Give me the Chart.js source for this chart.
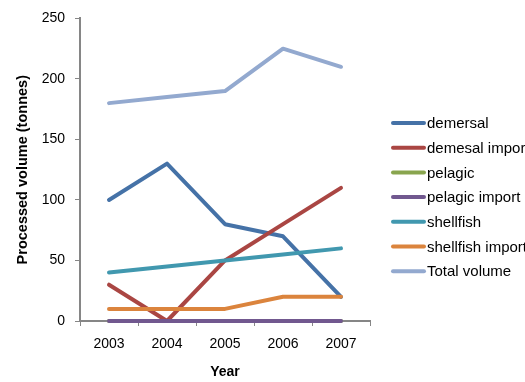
<!DOCTYPE html>
<html>
<head>
<meta charset="utf-8">
<script src="https://cdn.jsdelivr.net/npm/chart.js@4/dist/chart.umd.min.js"></script>
<style>
  html, body { margin: 0; padding: 0; background: #ffffff; }
  #wrap { width: 525px; height: 382px; position: relative; }
</style>
</head>
<body>
<div id="wrap"><canvas id="c" width="525" height="382"></canvas></div>
<script>
// Processed volume by product group, 2003–2007 (tonnes)
const years = ['2003', '2004', '2005', '2006', '2007'];
const seriesNames = ['demersal', 'demesal import', 'pelagic', 'pelagic import', 'shellfish', 'shellfish import', 'Total volume'];
const demersal = [100, 130, 80, 70, 20];
const demersalImport = [30, 0, 50, 80, 110];
const pelagic = [0, 0, 0, 0, 0];
const pelagicImport = [0, 0, 0, 0, 0];
const shellfish = [40, 45, 50, 55, 60];
const shellfishImport = [10, 10, 10, 20, 20];
const totalVolume = [180, 185, 190, 225, 210];
const yTicks = [0, 50, 100, 150, 200, 250];

const seriesValues = [demersal, demersalImport, pelagic, pelagicImport, shellfish, shellfishImport, totalVolume];
const seriesColors = ['#4572A7', '#AA4643', '#89A54E', '#71588F', '#4198AF', '#DB843D', '#93A9CF'];

const FONT = 'Arial, "Liberation Sans", sans-serif';

// Draw order: pelagic import sits on top of pelagic at zero
const datasets = seriesNames.map((name, i) => ({
  label: name,
  data: seriesValues[i],
  borderColor: seriesColors[i],
  backgroundColor: seriesColors[i],
  borderWidth: 4,
  pointRadius: 0,
  pointHoverRadius: 0,
  tension: 0,
  borderCapStyle: 'round',
  borderJoinStyle: 'round',
  clip: false,
  order: seriesNames.length - i
}));

// Legend drawn at the right side, clipped by the canvas edge
const sideLegend = {
  id: 'sideLegend',
  afterDraw(chart) {
    const ctx = chart.ctx;
    const x0 = 393, x1 = 424, tx = 427;
    let y = 123;
    ctx.save();
    chart.data.datasets.forEach(ds => {
      ctx.strokeStyle = ds.borderColor;
      ctx.lineWidth = 4;
      ctx.lineCap = 'round';
      ctx.beginPath();
      ctx.moveTo(x0, y);
      ctx.lineTo(x1, y);
      ctx.stroke();
      ctx.fillStyle = '#000000';
      ctx.font = '15px ' + FONT;
      ctx.textBaseline = 'middle';
      ctx.textAlign = 'left';
      ctx.fillText(ds.label, tx, y + 1);
      y += 24.7;
    });
    ctx.restore();
  }
};

new Chart(document.getElementById('c'), {
  type: 'line',
  data: { labels: years, datasets },
  plugins: [sideLegend],
  options: {
    responsive: false,
    animation: false,
    devicePixelRatio: 1,
    layout: { padding: { top: 16, right: 155, left: 0, bottom: 0 } },
    plugins: { legend: { display: false }, tooltip: { enabled: false } },
    scales: {
      x: {
        type: 'category',
        offset: true,
        afterFit(scale) { scale.height = 61; },
        grid: {
          offset: true,
          drawOnChartArea: false,
          drawTicks: true,
          tickLength: 5,
          color: '#868686',
          lineWidth: 1
        },
        border: { display: true, color: '#868686', width: 2 },
        ticks: { color: '#000000', font: { family: FONT, size: 14 }, padding: 10, maxRotation: 0 },
        title: {
          display: true,
          text: 'Year',
          color: '#000000',
          font: { family: FONT, size: 14, weight: 'bold' },
          padding: { top: 0, bottom: 1 }
        }
      },
      y: {
        min: 0,
        max: 250,
        afterFit(scale) { scale.width = 80; },
        afterBuildTicks(scale) { scale.ticks = yTicks.map(v => ({ value: v })); },
        grid: {
          drawOnChartArea: false,
          drawTicks: true,
          tickLength: 5,
          color: '#868686',
          lineWidth: 1
        },
        border: { display: true, color: '#868686', width: 2 },
        ticks: { color: '#000000', font: { family: FONT, size: 14 }, padding: 10 },
        title: {
          display: true,
          text: 'Processed volume (tonnes)',
          color: '#000000',
          font: { family: FONT, size: 14.5, weight: 'bold' },
          padding: { top: 14, bottom: 0 }
        }
      }
    }
  }
});
</script>
</body>
</html>
